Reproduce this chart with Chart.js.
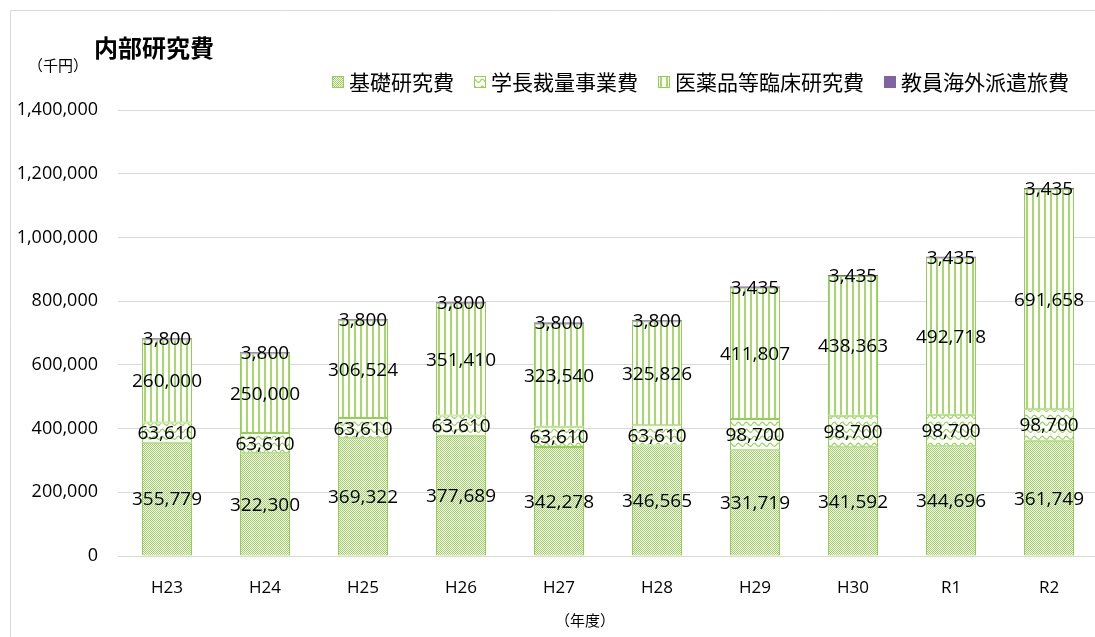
<!DOCTYPE html>
<html lang="ja">
<head>
<meta charset="utf-8">
<title>内部研究費</title>
<script src="https://cdn.jsdelivr.net/npm/chart.js@4.4.1/dist/chart.umd.min.js"></script>
<style>
  html, body { margin: 0; padding: 0; background: #ffffff; overflow: hidden; }
  #wrap { width: 1095px; height: 637px; overflow: hidden; }
</style>
</head>
<body>
<div id="wrap"><canvas id="chart-research" width="1100" height="637"></canvas></div>
<script>
// data (千円)
const years = ['H23', 'H24', 'H25', 'H26', 'H27', 'H28', 'H29', 'H30', 'R1', 'R2'];
const basicResearch = [355779, 322300, 369322, 377689, 342278, 346565, 331719, 341592, 344696, 361749];
const presidentDiscretion = [63610, 63610, 63610, 63610, 63610, 63610, 98700, 98700, 98700, 98700];
const clinicalResearch = [260000, 250000, 306524, 351410, 323540, 325826, 411807, 438363, 492718, 691658];
const overseasTravel = [3800, 3800, 3800, 3800, 3800, 3800, 3435, 3435, 3435, 3435];
const seriesNames = ['基礎研究費', '学長裁量事業費', '医薬品等臨床研究費', '教員海外派遣旅費'];
const yTicks = [0, 200000, 400000, 600000, 800000, 1000000, 1200000, 1400000];

const colors = {
    green: '#92d050',
    greenLight: '#ffffff',
    purple: '#8064a2',
    grid: '#d9d9d9',
    text: '#000000'
};
const cjk = "'Noto Sans CJK JP', sans-serif";
const num = "'Open Sans', 'Noto Sans CJK JP', sans-serif";

// --- fill patterns (Excel-like hatching) ---
const patCtx = document.createElement('canvas').getContext('2d');

function makePattern(w, h, draw) {
    const c = document.createElement('canvas');
    c.width = w; c.height = h;
    const g = c.getContext('2d');
    g.fillStyle = '#ffffff';
    g.fillRect(0, 0, w, h);
    draw(g);
    return patCtx.createPattern(c, 'repeat');
}

const dotPattern = makePattern(2, 2, g => {
    g.fillStyle = colors.greenLight;
    g.fillRect(0, 0, 2, 2);
    g.fillStyle = '#9bd45c';
    g.fillRect(0, 0, 1, 1);
    g.fillRect(1, 1, 1, 1);
});

const wavePattern = makePattern(8, 7, g => {
    g.strokeStyle = colors.green;
    g.lineWidth = 1.2;
    g.beginPath();
    g.moveTo(0, 4.5);
    g.quadraticCurveTo(2, 0.5, 4, 3.5);
    g.quadraticCurveTo(6, 6.5, 8, 4.5);
    g.stroke();
});

const stripePattern = makePattern(6, 1, g => {
    g.fillStyle = '#a6d86e';
    g.fillRect(0, 0, 2, 1);
});

const fills = [dotPattern, wavePattern, stripePattern, colors.purple];

// --- plugins ---
const frame = {
    id: 'frame',
    beforeDraw(chart) {
        const ctx = chart.ctx;
        ctx.save();
        ctx.fillStyle = '#ffffff';
        ctx.fillRect(0, 0, chart.width, chart.height);
        ctx.strokeStyle = colors.grid;
        ctx.lineWidth = 1;
        ctx.beginPath();
        ctx.moveTo(10.5, chart.height);
        ctx.lineTo(10.5, 10.5);
        ctx.lineTo(chart.width, 10.5);
        ctx.stroke();
        ctx.restore();
    },
    afterDraw(chart) {
        const ctx = chart.ctx;
        ctx.save();
        ctx.fillStyle = colors.text;
        ctx.textBaseline = 'middle';
        ctx.textAlign = 'left';
        ctx.font = 'bold 24px ' + cjk;
        ctx.fillText('内部研究費', 94, 48);
        ctx.font = '15px ' + cjk;
        ctx.fillText('（千円）', 28, 65);
        ctx.textAlign = 'center';
        ctx.fillText('（年度）', 585, 620);

        // legend
        let x = 332;
        const y = 82;
        ctx.font = '21px ' + cjk;
        ctx.textAlign = 'left';
        seriesNames.forEach((name, i) => {
            ctx.fillStyle = fills[i];
            ctx.fillRect(x, y - 6, 12, 12);
            if (i < 3) {
                ctx.strokeStyle = colors.green;
                ctx.strokeRect(x + 0.5, y - 5.5, 11, 11);
            }
            ctx.fillStyle = colors.text;
            ctx.fillText(name, x + 17, y);
            x += 17 + ctx.measureText(name).width + 20;
        });
        ctx.restore();
    }
};

const barLabels = {
    id: 'barLabels',
    afterDatasetsDraw(chart) {
        const ctx = chart.ctx;
        ctx.save();
        ctx.font = '19px ' + num;
        ctx.fillStyle = colors.text;
        ctx.textAlign = 'center';
        ctx.textBaseline = 'middle';
        chart.data.datasets.forEach((ds, i) => {
            chart.getDatasetMeta(i).data.forEach((bar, j) => {
                const p = bar.getProps(['x', 'y', 'base'], true);
                ctx.fillText(ds.data[j].toLocaleString('en-US'), p.x, (p.y + p.base) / 2 + 1);
            });
        });
        ctx.restore();
    }
};

const seriesData = [basicResearch, presidentDiscretion, clinicalResearch, overseasTravel];

new Chart(document.getElementById('chart-research'), {
    type: 'bar',
    data: {
        labels: years,
        datasets: seriesData.map((d, i) => ({
            label: seriesNames[i],
            data: d,
            backgroundColor: fills[i],
            borderColor: i < 3 ? colors.green : colors.purple,
            borderWidth: i < 3 ? 1 : 0,
            borderSkipped: false,
            categoryPercentage: 1,
            barPercentage: 0.51
        }))
    },
    options: {
        responsive: false,
        animation: false,
        layout: { padding: { top: 110, right: 2, left: 0, bottom: 0 } },
        plugins: {
            legend: { display: false },
            tooltip: { enabled: false }
        },
        scales: {
            x: {
                stacked: true,
                grid: { display: false },
                border: { color: colors.grid },
                ticks: {
                    color: colors.text,
                    font: { family: num, size: 17 },
                    padding: 14
                },
                afterFit: s => { s.height = 81; }
            },
            y: {
                stacked: true,
                min: 0,
                max: 1400000,
                afterBuildTicks: s => { s.ticks = yTicks.map(v => ({ value: v })); },
                grid: { color: colors.grid, drawTicks: false },
                border: { display: false },
                ticks: {
                    color: colors.text,
                    font: { family: num, size: 18 },
                    padding: 20,
                    callback: v => v.toLocaleString('en-US')
                },
                afterFit: s => { s.width = 118; }
            }
        }
    },
    plugins: [frame, barLabels]
});
</script>
</body>
</html>
